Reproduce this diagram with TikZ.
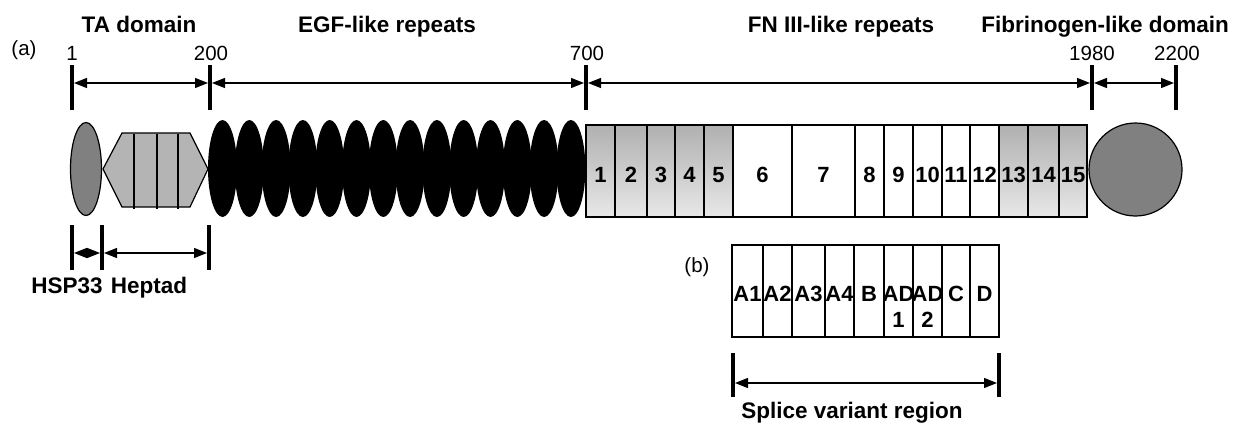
\documentclass[tikz,border=0pt]{standalone}
\usepackage{fontspec}
\setmainfont{Liberation Sans}
\usetikzlibrary{arrows.meta,shapes.geometric}
\definecolor{fngtop}{RGB}{176,176,176}
\definecolor{fngbot}{RGB}{232,232,232}
\definecolor{midgray}{RGB}{128,128,128}
\definecolor{lightgray}{RGB}{180,180,180}
\begin{document}
\begin{tikzpicture}[x=1pt,y=-1pt,
  title/.style={font=\fontsize{22.5}{26}\selectfont\bfseries, anchor=base, inner sep=0},
  num/.style={font=\fontsize{20.5}{24}\selectfont, anchor=base, inner sep=0},
  tickline/.style={line width=4pt},
  dim/.style={line width=1.3pt, {Triangle[length=13pt,width=10pt]}-{Triangle[length=13pt,width=10pt]}, shorten <=2pt, shorten >=2pt},
  fn/.style={draw, line width=1.2pt, rectangle, inner sep=0, minimum height=92pt, text height=23pt, text depth=0pt, font=\fontsize{22}{25}\selectfont\bfseries},
  fnw/.style={fn, fill=white},
  fng/.style={fn, top color=fngtop, bottom color=fngbot},
  sv/.style={draw, line width=1.2pt, rectangle, inner sep=0, minimum height=92pt},
  svl/.style={font=\fontsize{22}{26}\selectfont\bfseries, anchor=north, inner sep=0, align=center},
  egf/.style={ellipse, fill=black, inner sep=0, minimum width=29pt, minimum height=97pt},
]
\useasboundingbox (0,0) rectangle (1238,428);

% titles
\node[title] (tTA) at (139,33) {TA domain};
\node[title] (tEGF) at (387,33) {EGF-like repeats};
\node[title] (tFN) at (841,33) {FN III-like repeats};
\node[title] (tFib) at (1105,33) {Fibrinogen-like domain};

\node[num] (la) at (24,56) {(a)};
\node[num] (n1) at (72,60) {1};
\node[num] (n200) at (211,60) {200};
\node[num] (n700) at (587,60) {700};
\node[num] (n1980) at (1092,60) {1980};
\node[num] (n2200) at (1177,60) {2200};

% top ticks and dimension arrows
\foreach \x in {72,210,586,1092,1176} \draw[tickline] (\x,65) -- (\x,110);
\coordinate (a1) at (72,83);
\coordinate (a2) at (210,83);
\coordinate (a3) at (586,83);
\coordinate (a4) at (1092,83);
\coordinate (a5) at (1176,83);
\draw[dim] (a1) -- (a2);
\draw[dim] (a2) -- (a3);
\draw[dim] (a3) -- (a4);
\draw[dim] (a4) -- (a5);

% HSP33 ellipse
\draw[line width=1.2pt, fill=midgray] (86,169) ellipse [x radius=15.5, y radius=46.5];
% heptad hexagon
\draw[line width=1.2pt, fill=lightgray] (103,169) -- (122,133) -- (190,133) -- (208,169) -- (190,207) -- (122,207) -- cycle;
\foreach \x in {134,157,178} \draw[line width=1.5pt] (\x,134) -- (\x,209);

% EGF-like repeats
\foreach \i in {0,...,13} \node[egf] (e\i) at ({222.5+26.8*\i},168.5) {};

% FN III boxes
\node[fng, minimum width=29pt] (f1) at (600.5,171) {1};
\node[fng, minimum width=32pt] (f2) at (631,171) {2};
\node[fng, minimum width=28pt] (f3) at (661,171) {3};
\node[fng, minimum width=29pt] (f4) at (689.5,171) {4};
\node[fng, minimum width=29pt] (f5) at (718.5,171) {5};
\node[fnw, minimum width=59pt] (f6) at (762.5,171) {6};
\node[fnw, minimum width=63pt] (f7) at (823.5,171) {7};
\node[fnw, minimum width=29pt] (f8) at (869.5,171) {8};
\node[fnw, minimum width=29pt] (f9) at (898.5,171) {9};
\node[fnw, minimum width=29pt] (f10) at (927.5,171) {10};
\node[fnw, minimum width=28pt] (f11) at (956,171) {11};
\node[fnw, minimum width=29pt] (f12) at (984.5,171) {12};
\node[fng, minimum width=29pt] (f13) at (1013.5,171) {13};
\node[fng, minimum width=31pt] (f14) at (1043.5,171) {14};
\node[fng, minimum width=28pt] (f15) at (1073,171) {15};

% fibrinogen circle
\draw[line width=1.2pt, fill=midgray] (1135.5,169.5) circle [radius=46.5];

% HSP33 / Heptad
\foreach \x in {72,102,209} \draw[tickline] (\x,225) -- (\x,270);
\coordinate (b1) at (72,253);
\coordinate (b2) at (102,253);
\coordinate (b3) at (209,253);
\draw[dim] (b1) -- (b2);
\draw[dim] (b2) -- (b3);
\node[title] (lh) at (67,293) {HSP33};
\node[title] (lhep) at (149,293) {Heptad};

% (b) splice variants
\node[num] (lb) at (697,272) {(b)};
\node[sv, minimum width=31pt] (s1) at (747.5,291) {};
\node[sv, minimum width=29pt] (s2) at (777.5,291) {};
\node[sv, minimum width=33pt] (s3) at (808.5,291) {};
\node[sv, minimum width=29pt] (s4) at (839.5,291) {};
\node[sv, minimum width=30pt] (s5) at (869,291) {};
\node[sv, minimum width=29pt] (s6) at (898.5,291) {};
\node[sv, minimum width=29pt] (s7) at (927.5,291) {};
\node[sv, minimum width=28pt] (s8) at (956,291) {};
\node[sv, minimum width=29pt] (s9) at (984.5,291) {};
\node[svl] at (747.5,286) {A1};
\node[svl] at (777.5,286) {A2};
\node[svl] at (808.5,286) {A3};
\node[svl] at (839.5,286) {A4};
\node[svl] at (869,286) {B};
\node[svl] at (898.5,286) {AD\\1};
\node[svl] at (927.5,286) {AD\\2};
\node[svl] at (956,286) {C};
\node[svl] at (984.5,286) {D};

\foreach \x in {733,999} \draw[tickline] (\x,353) -- (\x,397);
\coordinate (c1) at (733,383);
\coordinate (c2) at (999,383);
\draw[dim] (c1) -- (c2);
\node[title] (ls) at (852,418) {Splice variant region};
\end{tikzpicture}
\end{document}
